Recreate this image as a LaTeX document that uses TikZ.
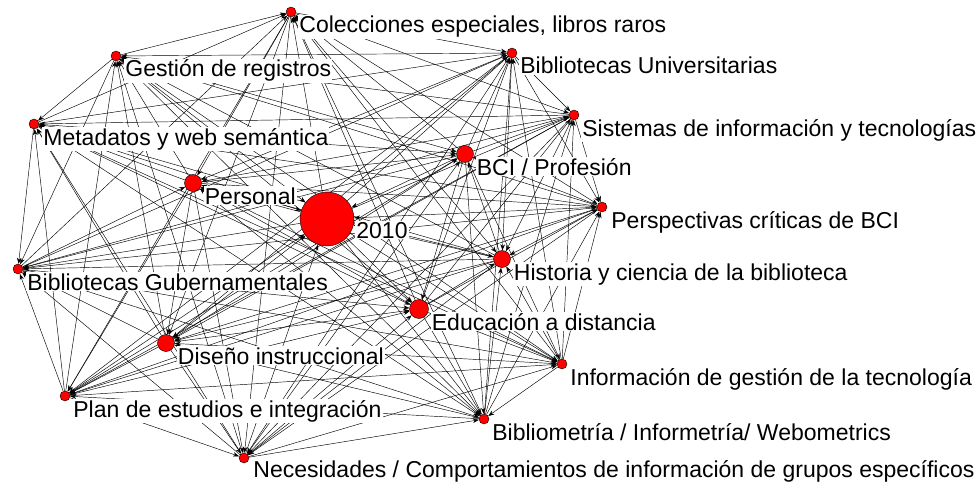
\documentclass[tikz,border=0pt]{standalone}
\usepackage{fontspec}
\setmainfont{Liberation Sans}
\usetikzlibrary{arrows.meta, backgrounds, calc}

\begin{document}
\begin{tikzpicture}[
    x=1pt, y=-1pt,
    >={Stealth[length=6pt, width=4.5pt]},
    vertex/.style={
        circle,
        draw=black,
        line width=0.4pt,
        fill=red,
        inner sep=0pt,
        minimum size=10pt
    },
    midvertex/.style={
        vertex,
        minimum size=17pt
    },
    bigvertex/.style={
        vertex,
        minimum size=54pt
    },
    tag/.style={
        anchor=base west,
        fill=white,
        inner sep=1pt,
        font=\fontsize{23}{26}\selectfont
    },
    tie/.style={
        ->,
        line width=0.45pt
    }
]

    \useasboundingbox (0,0) rectangle (977,487);

    % Topics
    \node[vertex] (colec) at (291,12) {};
    \node[vertex] (gestion) at (116,56) {};
    \node[vertex] (bibuni) at (512,53) {};
    \node[vertex] (metad) at (34,124) {};
    \node[vertex] (sist) at (574,115) {};
    \node[midvertex] (bci) at (465,154) {};
    \node[midvertex] (personal) at (193,183) {};
    \node[bigvertex] (y2010) at (327,219) {};
    \node[vertex] (persp) at (602,207) {};
    \node[vertex] (gub) at (18,269) {};
    \node[midvertex] (hist) at (502,259) {};
    \node[midvertex, minimum size=19pt] (educ) at (419,309) {};
    \node[midvertex] (disenio) at (166,343) {};
    \node[vertex] (infogest) at (562,364) {};
    \node[vertex] (plan) at (65,396) {};
    \node[vertex] (bibliom) at (484,419) {};
    \node[vertex] (neces) at (244,458) {};

    % Ties
    \def\topics{colec,gestion,bibuni,metad,sist,bci,personal,y2010,persp,gub,hist,educ,disenio,infogest,plan,bibliom,neces}
    \begin{scope}[on background layer]
        \foreach \a [count=\i] in \topics {
            \foreach \b [count=\j] in \topics {
                \ifnum\j>\i
                    \pgfmathtruncatemacro{\flip}{mod(\i+\j,2)}
                    \ifnum\flip=0
                        \draw[tie] (\a) -- (\b);
                    \else
                        \draw[tie] (\b) -- (\a);
                    \fi
                \fi
            }
        }
    \end{scope}

    % Labels
    \node[tag] (colec_l) at ([shift={(2,21)}]colec.east) {Colecciones especiales, libros raros};
    \node[tag] (gestion_l) at ([shift={(3,21)}]gestion.east) {Gestión de registros};
    \node[tag] (bibuni_l) at ([shift={(2,21)}]bibuni.east) {Bibliotecas Universitarias};
    \node[tag] (metad_l) at ([shift={(3,21)}]metad.east) {Metadatos y web semántica};
    \node[tag] (sist_l) at ([shift={(2,21)}]sist.east) {Sistemas de información y tecnologías};
    \node[tag] (bci_l) at ([shift={(2,21)}]bci.east) {BCI / Profesión};
    \node[tag] (personal_l) at ([shift={(2,21)}]personal.east) {Personal};
    \node[tag] (y2010_l) at ([shift={(1,19)}]y2010.east) {2010};
    \node[tag] (persp_l) at ([shift={(3,21)}]persp.east) {Perspectivas críticas de BCI};
    \node[tag] (gub_l) at ([shift={(3,21)}]gub.east) {Bibliotecas Gubernamentales};
    \node[tag] (hist_l) at ([shift={(2,21)}]hist.east) {Historia y ciencia de la biblioteca};
    \node[tag] (educ_l) at ([shift={(2,21)}]educ.east) {Educación a distancia};
    \node[tag] (disenio_l) at ([shift={(2,21)}]disenio.east) {Diseño instruccional};
    \node[tag] (infogest_l) at ([shift={(2,21)}]infogest.east) {Información de gestión de la tecnología};
    \node[tag] (plan_l) at ([shift={(2,21)}]plan.east) {Plan de estudios e integración};
    \node[tag] (bibliom_l) at ([shift={(2,21)}]bibliom.east) {Bibliometría / Informetría/ Webometrics};
    \node[tag] (neces_l) at ([shift={(3,19)}]neces.east) {Necesidades / Comportamientos de información de grupos específicos};

\end{tikzpicture}
\end{document}
